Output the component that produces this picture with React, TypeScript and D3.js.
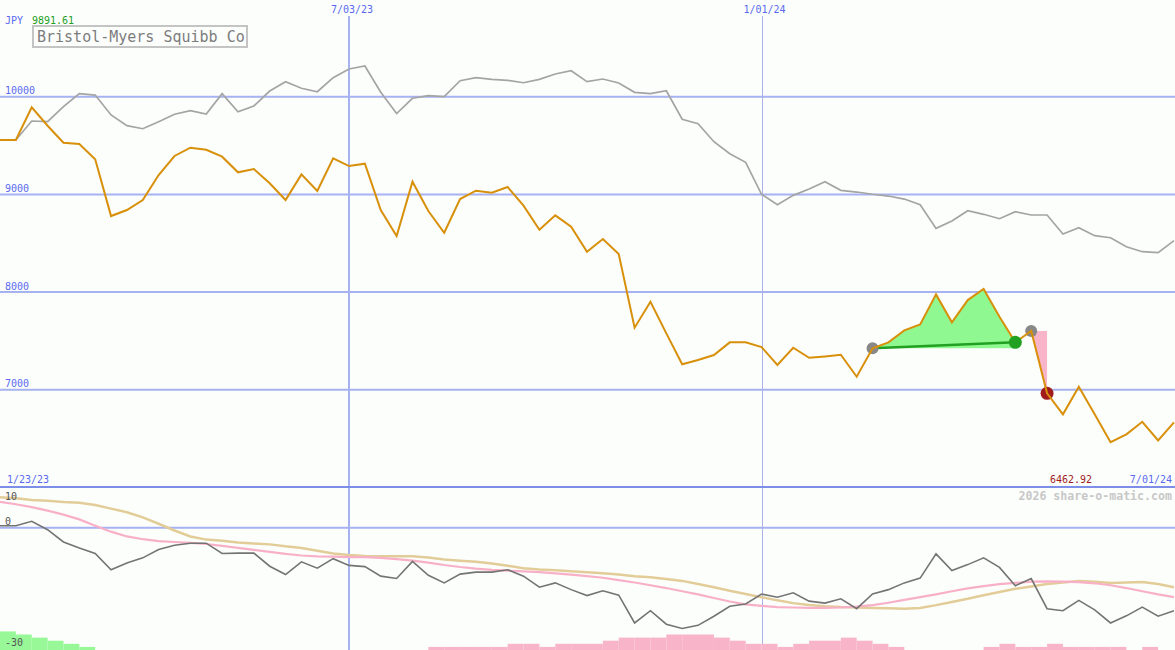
import React from 'react';
import * as d3 from 'd3';

const W = 1175;
const H = 650;

const startDate = new Date(2023, 0, 30);
const currency = 'JPY';
const title = 'Bristol-Myers Squibb Co';
const rangeStartLabel = '1/23/23';
const rangeEndLabel = '7/01/24';
const maxLabel = '9891.61';
const minLabel = '6462.92';
const credit = '2026 share-o-matic.com';

// Weekly close (JPY)
const priceJPY = [
  9557, 9557, 9892, 9703, 9529, 9516, 9359, 8778, 8840, 8942,
  9198, 9393, 9478, 9457, 9386, 9226, 9260, 9113, 8942, 9205,
  9034, 9369, 9290, 9314, 8840, 8574, 9130, 8830, 8607, 8952,
  9038, 9017, 9075, 8884, 8638, 8785, 8669, 8413, 8543, 8389,
  7635, 7901, 7577, 7260, 7304, 7355, 7485, 7485, 7437, 7253,
  7430, 7327, 7341, 7358, 7133, 7424, 7485, 7608, 7669, 7976,
  7690, 7918, 8031, 7747, 7485, 7601, 6963, 6748, 7030, 6748,
  6463, 6543, 6672, 6480, 6666,
];

// Comparison index (rebased)
const comparison = [
  9557, 9557, 9751, 9744, 9898, 10031, 10017, 9813, 9703, 9672,
  9744, 9820, 9857, 9823, 10031, 9846, 9905, 10058, 10154, 10086,
  10051, 10195, 10284, 10314, 10045, 9828, 9984, 10010, 10000, 10164,
  10195, 10178, 10168, 10143, 10178, 10232, 10266, 10154, 10181, 10140,
  10045, 10031, 10061, 9769, 9724, 9539, 9416, 9328, 9001, 8894,
  8990, 9055, 9130, 9041, 9024, 9001, 8983, 8952, 8894, 8652,
  8727, 8833, 8796, 8751, 8822, 8789, 8789, 8594, 8659, 8577,
  8556, 8464, 8413, 8403, 8526,
];

// Lower panel
const momentum = [
  0.5, 0.5, 1.6, -0.5, -3.6, -5.1, -6.5, -10.6, -8.9, -7.6,
  -5.5, -4.4, -3.9, -3.9, -6.5, -6.4, -6.4, -9.7, -11.8, -8.6,
  -10.2, -7.8, -9.5, -9.8, -12.2, -12.8, -8.5, -12.0, -13.9, -11.7,
  -11.2, -11.2, -10.6, -12.2, -15.0, -13.9, -15.6, -17.1, -15.9, -17.0,
  -24.0, -20.9, -24.3, -25.4, -24.6, -22.3, -19.8, -19.2, -16.7, -17.5,
  -16.4, -18.5, -19.0, -17.9, -20.4, -16.7, -15.6, -13.9, -12.7, -6.6,
  -10.8, -9.3, -7.6, -10.0, -14.6, -12.8, -20.4, -20.9, -18.3, -20.7,
  -24.0, -22.2, -20.0, -22.3, -20.9,
];

const maFast = [
  6.5, 5.9, 5.2, 4.3, 3.3, 2.1, 0.5, -1.0, -2.2, -2.9,
  -3.4, -3.6, -3.8, -4.1, -4.6, -5.1, -5.6, -6.1, -6.6, -7.0,
  -7.2, -7.3, -7.4, -7.4, -7.6, -7.9, -8.3, -8.8, -9.4, -9.9,
  -10.3, -10.6, -10.8, -11.0, -11.2, -11.5, -11.8, -12.2, -12.6, -13.2,
  -13.8, -14.5, -15.2, -16.0, -16.8, -17.7, -18.6, -19.3, -19.7, -20.0,
  -20.1, -20.2, -20.2, -20.1, -19.9, -19.5, -18.9, -18.2, -17.5, -16.8,
  -16.0, -15.3, -14.7, -14.2, -13.9, -13.6, -13.5, -13.6, -13.7, -14.0,
  -14.5, -15.2, -16.0, -16.8, -17.5,
];

const maSlow = [
  7.7, 7.4, 7.0, 6.8, 6.5, 6.3, 5.7, 4.8, 3.9, 2.6,
  1.0, -0.7, -2.2, -3.0, -3.3, -3.7, -4.0, -4.2, -4.7, -5.1,
  -5.8, -6.5, -6.9, -7.1, -7.2, -7.2, -7.2, -7.5, -8.0, -8.3,
  -8.6, -9.0, -9.6, -10.2, -10.5, -10.7, -11.0, -11.2, -11.5, -11.8,
  -12.2, -12.5, -12.9, -13.4, -14.2, -15.0, -15.9, -16.7, -17.5, -18.3,
  -19.0, -19.5, -19.8, -20.0, -20.1, -20.2, -20.3, -20.4, -20.2, -19.5,
  -18.7, -17.9, -17.0, -16.2, -15.4, -14.8, -14.2, -13.8, -13.4, -13.6,
  -13.9, -13.8, -13.7, -14.2, -15.0,
];

// Histogram (positive = green, negative = pink)
const histogram = [
  6, 5, 4, 3, 2, 1, 0, 0, 0, 0,
  0, 0, 0, 0, 0, 0, 0, 0, 0, 0,
  0, 0, 0, 0, 0, 0, 0, -1, -1, -1,
  -1, -1, -2, -2, -1, -2, -2, -2, -3, -4,
  -4, -4, -5, -5, -5, -4, -3, -2, -2, -1,
  -2, -3, -3, -4, -3, -2, -1, 0, 0, 0,
  0, 0, -1, -2, -1, -1, -2, -1, -1, -1,
  -1, 0, -1, 0, 0,
];

const priceTicks = [10000, 9000, 8000, 7000];
const indicatorLabels = [10, 0, -30];
const dateLines = [
  { date: new Date(2023, 6, 3), label: '7/03/23', major: true },
  { date: new Date(2024, 0, 1), label: '1/01/24', major: false },
];
// trade markers (week indices)
const tradeEntry = 55;
const tradeExit = 64;
const stopStart = 65;
const stopHit = 66;

const FONT = "'DejaVu Sans Mono', 'Liberation Mono', monospace";

export default function App() {
  const dates = priceJPY.map((_, i) => d3.timeWeek.offset(startDate, i));
  const nextDate = (i: number) => d3.timeWeek.offset(startDate, i + 1);

  const x = d3.scaleTime().domain([dates[0], dates[dates.length - 1]]).range([0, 1174]);
  const y = d3.scaleLinear().domain([6000, 10000]).range([487.4, 96.7]);
  const yi = d3.scaleLinear().domain([-30, 10]).range([646.8, 488]);
  const bh = d3.scaleLinear().domain([0, 1]).range([0, 3.1]);

  const priceLine = d3.line<number>().x((_, i) => x(dates[i])).y((d) => y(d));
  const indLine = d3.line<number>().x((_, i) => x(dates[i])).y((d) => yi(d));

  const gridColor = '#a6b2f2';

  // green fill between price and entry level
  const entryLevel = priceJPY[tradeEntry];
  const greenPts: [number, number][] = [];
  for (let i = tradeEntry; i <= tradeExit; i++) greenPts.push([x(dates[i]), y(priceJPY[i])]);
  greenPts.push([x(dates[tradeExit]), y(entryLevel)]);
  greenPts.push([x(dates[tradeEntry]), y(entryLevel)]);

  const pinkPts: [number, number][] = [
    [x(dates[stopStart]), y(priceJPY[stopStart])],
    [x(dates[stopHit]), y(priceJPY[stopStart])],
    [x(dates[stopHit]), y(priceJPY[stopHit])],
  ];
  const poly = d3.line();

  return (
    <div style={{ position: 'absolute', left: 0, top: 0 }}>
      <svg width={W} height={H} style={{ display: 'block' }} fontFamily={FONT}>
        <rect x={0} y={0} width={W} height={H} fill="#fcfefc" />

        {/* horizontal grid */}
        {priceTicks.map((t) => (
          <line key={t} x1={0} x2={W} y1={y(t)} y2={y(t)} stroke={gridColor} strokeWidth={2} />
        ))}
        <line x1={0} x2={W} y1={yi(0)} y2={yi(0)} stroke={gridColor} strokeWidth={2} />

        {/* vertical date lines */}
        {dateLines.map((d) => (
          <line
            key={d.label}
            x1={Math.round(x(d.date)) + (d.major ? 0 : 0.5)}
            x2={Math.round(x(d.date)) + (d.major ? 0 : 0.5)}
            y1={16}
            y2={H}
            stroke={d.major ? gridColor : '#aab2e8'}
            strokeWidth={d.major ? 2 : 1}
          />
        ))}

        {/* panel separator */}
        <line x1={0} x2={W} y1={487} y2={487} stroke="#7d8ee8" strokeWidth={2} />

        {/* histogram */}
        {histogram.map((v, i) =>
          v === 0 ? null : (
            <rect
              key={i}
              x={x(dates[i])}
              width={x(nextDate(i)) - x(dates[i])}
              y={H - bh(Math.abs(v))}
              height={bh(Math.abs(v))}
              fill={v > 0 ? '#98f898' : '#f8b4c8'}
            />
          )
        )}

        {/* indicator lines */}
        <path d={indLine(maSlow) || ''} fill="none" stroke="#e2cc98" strokeWidth={2.5} />
        <path d={indLine(maFast) || ''} fill="none" stroke="#f8b0c8" strokeWidth={2.2} />
        <path d={indLine(momentum) || ''} fill="none" stroke="#747474" strokeWidth={1.6} />

        {/* trade fills */}
        <path d={poly(greenPts) + 'Z'} fill="#90f890" />
        <path d={poly(pinkPts) + 'Z'} fill="#f8b4c8" />

        {/* comparison line */}
        <path d={priceLine(comparison) || ''} fill="none" stroke="#a4a4a4" strokeWidth={1.7} />

        {/* trade line */}
        <line
          x1={x(dates[tradeEntry])}
          y1={y(priceJPY[tradeEntry])}
          x2={x(dates[tradeExit])}
          y2={y(priceJPY[tradeExit])}
          stroke="#22a022"
          strokeWidth={2.5}
        />

        <circle cx={x(dates[tradeEntry])} cy={y(priceJPY[tradeEntry])} r={6} fill="#888888" />
        <circle cx={x(dates[stopStart])} cy={y(priceJPY[stopStart])} r={6} fill="#888888" />
        <circle cx={x(dates[stopHit])} cy={y(priceJPY[stopHit])} r={6.5} fill="#a01c1c" />

        {/* price line */}
        <path d={priceLine(priceJPY) || ''} fill="none" stroke="#d8900a" strokeWidth={2} />

        <circle cx={x(dates[tradeExit])} cy={y(priceJPY[tradeExit])} r={6.5} fill="#22a022" />

        {/* labels */}
        {priceTicks.map((t) => (
          <text key={t} x={5} y={y(t) - 2.5} fontSize={10} fill="#5a6af0">
            {t}
          </text>
        ))}
        {dateLines.map((d) => (
          <text key={d.label} x={x(d.date) + 3} y={13} fontSize={10} fill="#5a6af0" textAnchor="middle">
            {d.label}
          </text>
        ))}
        <text x={5} y={24} fontSize={10} fill="#5a6af0">{currency}</text>
        <text x={32} y={24} fontSize={10} fill="#22a022">{maxLabel}</text>

        <rect x={33} y={26} width={214} height={21} fill="#fcfefc" stroke="#c4c4c4" strokeWidth={2} />
        <text x={37} y={42} fontSize={15} fill="#7c7c7c">{title}</text>

        <text x={7} y={483} fontSize={10} fill="#5a6af0">{rangeStartLabel}</text>
        <text x={1172} y={483} fontSize={10} fill="#5a6af0" textAnchor="end">{rangeEndLabel}</text>
        <text x={1050} y={483} fontSize={10} fill="#a01c1c">{minLabel}</text>
        <text x={1172} y={500} fontSize={11.6} fontWeight="bold" fill="#c8c8c8" textAnchor="end">{credit}</text>

        {indicatorLabels.map((v, i) => (
          <text
            key={v}
            x={5}
            y={i === 0 ? 500 : i === 1 ? 525 : 646}
            fontSize={10}
            fill="#555555"
          >
            {v}
          </text>
        ))}
      </svg>
    </div>
  );
}
